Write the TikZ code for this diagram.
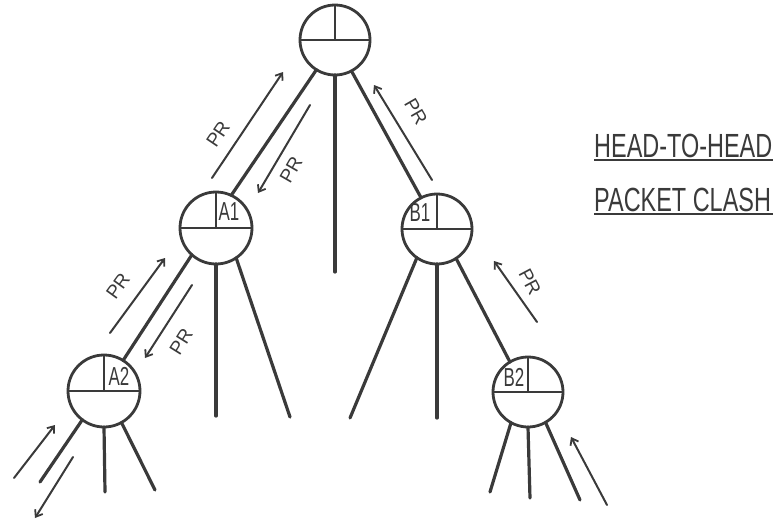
\documentclass[tikz,border=0pt]{standalone}
\usepackage{fontspec}
\setmainfont{Liberation Sans}
\usetikzlibrary{arrows.meta}
\definecolor{ink}{HTML}{3A3A3A}
\begin{document}
\begin{tikzpicture}[x=1pt,y=-1pt,
  nd/.style={circle,draw=ink,line width=2.8pt,inner sep=0pt,outer sep=0pt},
  edge/.style={draw=ink,line width=3.2pt,line cap=round},
  innerln/.style={draw=ink,line width=2.4pt},
  arr/.style={draw=ink,line width=2pt,line cap=round,-{Straight Barb[length=6pt,width=9pt,line width=1.8pt]}},
  lab/.style={font=\fontsize{19}{19}\selectfont,text=ink,inner sep=0pt},
  cl/.style={font=\fontsize{26}{26}\selectfont,text=ink,inner sep=0pt},
  ttl/.style={font=\fontsize{33.5}{33.5}\selectfont,text=ink,inner sep=0pt,anchor=base west}]
\useasboundingbox (0,0) rectangle (780,525);

% nodes
\node[nd,minimum size=70pt] (R)  at (335,40)  {};
\node[nd,minimum size=72pt] (A)  at (216,228) {};
\node[nd,minimum size=70pt] (B)  at (437,229) {};
\node[nd,minimum size=72pt] (A2) at (104,391) {};
\node[nd,minimum size=70pt] (B2) at (528,392) {};
\foreach \n in {R,A,B,A2,B2}{
  \draw[innerln] (\n.west) -- (\n.east);
  \draw[innerln] (\n.north) -- (\n.center);
}
\node[cl] (lA)  at (229,212) {\scalebox{0.65}[1]{A1}};
\node[cl] (lB)  at (420,213) {\scalebox{0.65}[1]{B1}};
\node[cl] (lA2) at (119,376) {\scalebox{0.65}[1]{A2}};
\node[cl] (lB2) at (514,377) {\scalebox{0.65}[1]{B2}};

% free ends
\coordinate (rM) at (335,272);
\coordinate (aM) at (216,416);
\coordinate (aR) at (290,417);
\coordinate (bL) at (350,418);
\coordinate (bM) at (437,418);
\coordinate (a2L) at (40,482);
\coordinate (a2M) at (105,492);
\coordinate (a2R) at (155,490);
\coordinate (b2L) at (490,492);
\coordinate (b2M) at (530,498);
\coordinate (b2R) at (580,500);

% edges
\draw[edge] (R.-122) -- (A.65);
\draw[edge] (R.-90) -- (rM);
\draw[edge] (R.-62) -- (B.117);
\draw[edge] (A.-132) -- (A2.58);
\draw[edge] (A.-90) -- (aM);
\draw[edge] (A.-56) -- (aR);
\draw[edge] (B.-125) -- (bL);
\draw[edge] (B.-90) -- (bM);
\draw[edge] (B.-57) -- (B2.121);
\draw[edge] (A2.-127) -- (a2L);
\draw[edge] (A2.-90) -- (a2M);
\draw[edge] (A2.-61) -- (a2R);
\draw[edge] (B2.-119) -- (b2L);
\draw[edge] (B2.-90) -- (b2M);
\draw[edge] (B2.-60) -- (b2R);

% arrow end points
\coordinate (p1s) at (212,178); \coordinate (p1e) at (283,72);
\coordinate (p2s) at (310,105); \coordinate (p2e) at (258,193);
\coordinate (p3s) at (432,180); \coordinate (p3e) at (374,85);
\coordinate (p4s) at (110,333); \coordinate (p4e) at (165,258);
\coordinate (p5s) at (192,285); \coordinate (p5e) at (145,358);
\coordinate (p6s) at (537,322); \coordinate (p6e) at (494,261);
\coordinate (p7s) at (14,478);  \coordinate (p7e) at (55,425);
\coordinate (p8s) at (73,457);  \coordinate (p8e) at (35,518);
\coordinate (p9s) at (607,505); \coordinate (p9e) at (571,437);

\draw[arr] (p1s) -- (p1e);
\draw[arr] (p2s) -- (p2e);
\draw[arr] (p3s) -- (p3e);
\draw[arr] (p4s) -- (p4e);
\draw[arr] (p5s) -- (p5e);
\draw[arr] (p6s) -- (p6e);
\draw[arr] (p7s) -- (p7e);
\draw[arr] (p8s) -- (p8e);
\draw[arr] (p9s) -- (p9e);

% PR labels
\node[lab,rotate=56]  (t1) at (218,134) {PR};
\node[lab,rotate=60]  (t2) at (291,170) {PR};
\node[lab,rotate=-60] (t3) at (416,112) {PR};
\node[lab,rotate=54]  (t4) at (118,286) {PR};
\node[lab,rotate=58]  (t5) at (181,342) {PR};
\node[lab,rotate=-62] (t6) at (530,282) {PR};

% title
\node[ttl] (h1) at (594,157) {\scalebox{0.7}[1]{HEAD-TO-HEAD}};
\node[ttl] (h2) at (594,211) {\scalebox{0.7}[1]{PACKET CLASH}};
\draw[ink,line width=1.2pt] (h1.base west) ++(0,3) -- ++(179,0);
\draw[ink,line width=1.2pt] (h2.base west) ++(0,3) -- ++(179,0);
\end{tikzpicture}
\end{document}
